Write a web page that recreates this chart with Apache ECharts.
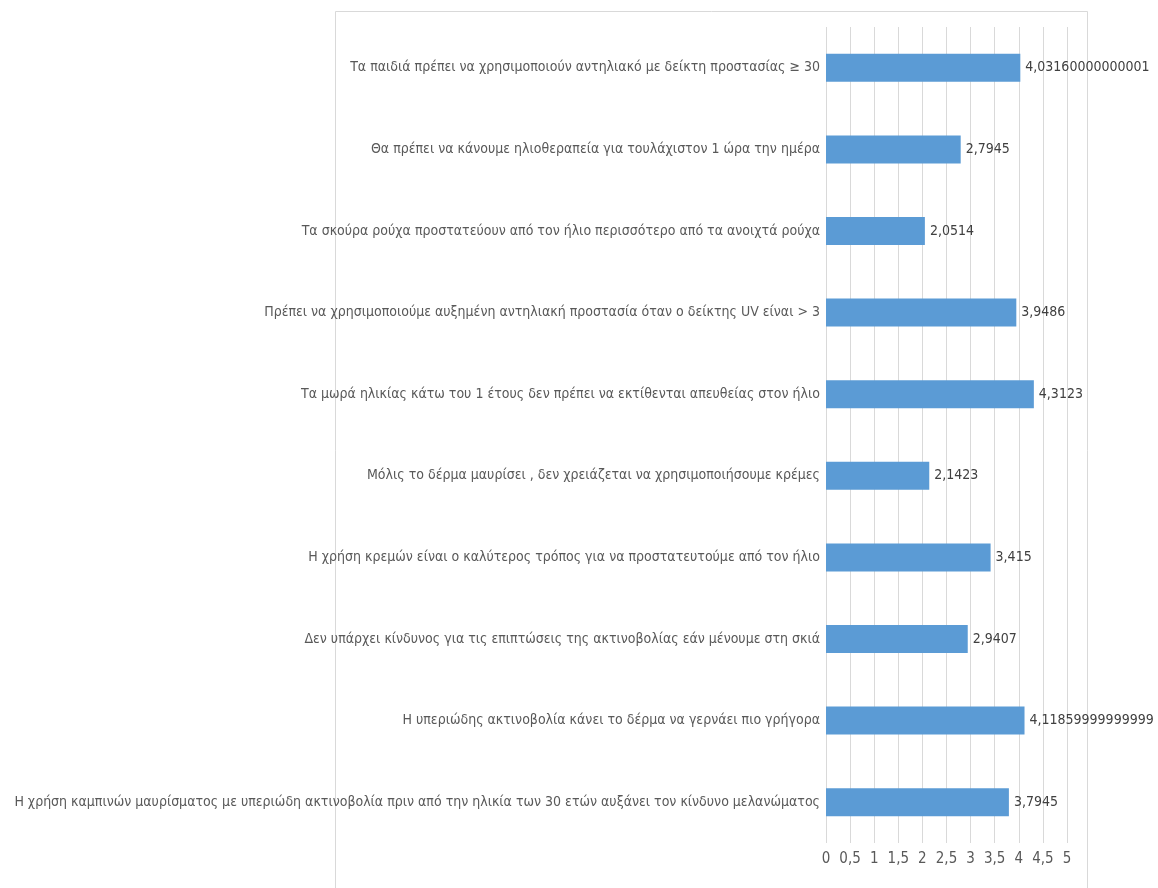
<!DOCTYPE html>
<html>
<head>
<meta charset="utf-8">
<script src="https://cdn.jsdelivr.net/npm/echarts@6/dist/echarts.min.js"></script>
<style>
  html, body { margin: 0; padding: 0; background: #fff; }
  #chart { width: 1158px; height: 888px; }
</style>
</head>
<body>
<div id="chart"></div>
<script>
// Statements, listed from the bottom bar upwards
const categories = [
  'Η χρήση καμπινών μαυρίσματος με υπεριώδη ακτινοβολία πριν από την ηλικία των 30 ετών αυξάνει τον κίνδυνο μελανώματος',
  'Η υπεριώδης ακτινοβολία κάνει το δέρμα να γερνάει πιο γρήγορα',
  'Δεν υπάρχει κίνδυνος για τις επιπτώσεις της ακτινοβολίας εάν μένουμε στη σκιά',
  'Η χρήση κρεμών είναι ο καλύτερος τρόπος για να προστατευτούμε από τον ήλιο',
  'Μόλις το δέρμα μαυρίσει , δεν χρειάζεται να χρησιμοποιήσουμε κρέμες',
  'Τα μωρά ηλικίας κάτω του 1 έτους δεν πρέπει να εκτίθενται απευθείας στον ήλιο',
  'Πρέπει να χρησιμοποιούμε αυξημένη αντηλιακή προστασία όταν ο δείκτης UV είναι > 3',
  'Τα σκούρα ρούχα προστατεύουν από τον ήλιο περισσότερο από τα ανοιχτά ρούχα',
  'Θα πρέπει να κάνουμε ηλιοθεραπεία για τουλάχιστον 1 ώρα την ημέρα',
  'Τα παιδιά πρέπει να χρησιμοποιούν αντηλιακό με δείκτη προστασίας ≥ 30'
];

// Mean scores per statement
const values = [3.7945, 4.11859999999999, 2.9407, 3.415, 2.1423, 4.3123, 3.9486, 2.0514, 2.7945, 4.03160000000001];

// Value axis range and step
const axisMin = 0;
const axisMax = 5;
const axisStep = 0.5;

const font = '"DejaVu Sans Condensed", "Liberation Sans", sans-serif';
const toComma = v => String(v).replace('.', ',');

const chart = echarts.init(document.getElementById('chart'), null, { renderer: 'canvas' });
chart.setOption({
  animation: false,
  backgroundColor: '#ffffff',
  graphic: [{
    type: 'rect',
    left: 333, top: 9,
    shape: { width: 752, height: 900 },
    style: { fill: 'none', stroke: '#d9d9d9', lineWidth: 1 },
    silent: true
  }],
  grid: {
    left: 826, right: 91, top: 27, bottom: 45,
    containLabel: false, outerBoundsMode: 'none'
  },
  xAxis: {
    type: 'value',
    min: axisMin, max: axisMax, interval: axisStep,
    axisLine: { show: false },
    axisTick: { show: false },
    splitLine: { show: true, lineStyle: { color: '#d9d9d9', width: 1 } },
    axisLabel: {
      color: '#595959', fontFamily: font, fontSize: 15, margin: 9,
      formatter: v => toComma(v)
    }
  },
  yAxis: {
    type: 'category',
    data: categories,
    axisLine: { show: false },
    axisTick: { show: false },
    axisLabel: { color: '#595959', fontFamily: font, fontSize: 14, margin: 6 }
  },
  series: [{
    type: 'bar',
    data: values,
    barWidth: 28,
    itemStyle: { color: '#5b9bd5' },
    label: {
      show: true, position: 'right', distance: 5,
      color: '#404040', fontFamily: font, fontSize: 14,
      formatter: p => toComma(p.value)
    }
  }]
});
</script>
</body>
</html>
